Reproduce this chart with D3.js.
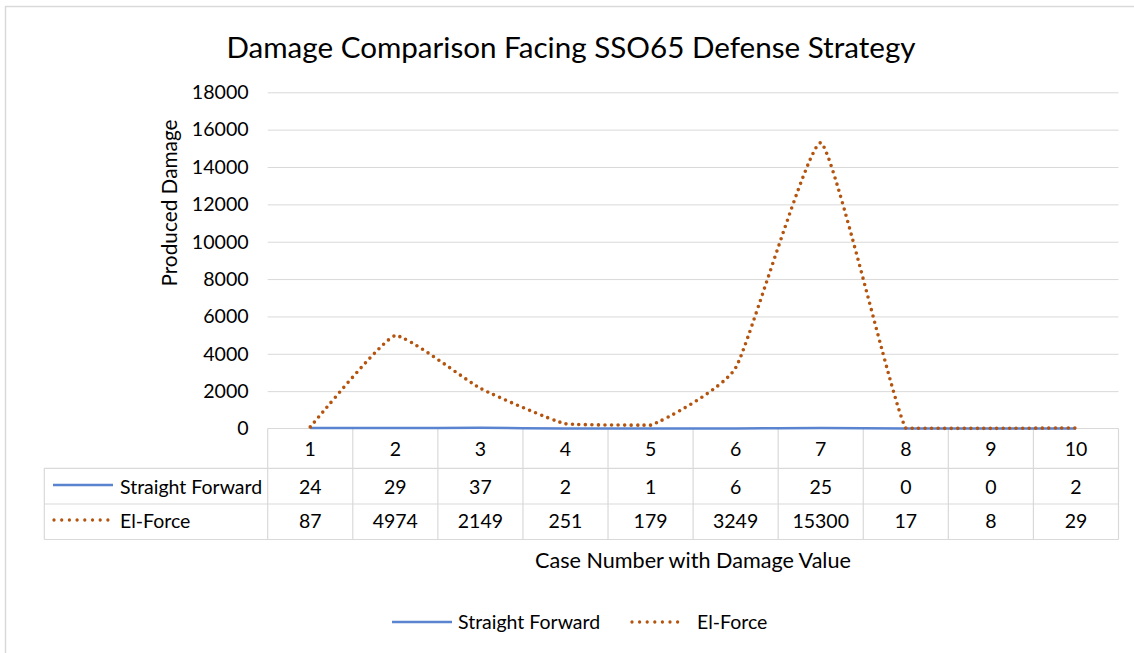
<!DOCTYPE html>
<html lang="en">
<head>
    <meta charset="UTF-8">
    <title>Damage Comparison</title>
    <script src="https://d3js.org/d3.v7.min.js"></script>
    <style>
        body { margin: 0; background: white; }
        text { font-family: Lato, "Open Sans", sans-serif; fill: #000; }
    </style>
</head>
<body>
    <svg id="svg1" width="1134" height="653"></svg>

    <script>
        // data ---------------------------------------------------------------
        const cases = [1, 2, 3, 4, 5, 6, 7, 8, 9, 10];
        const straightForward = [24, 29, 37, 2, 1, 6, 25, 0, 0, 2];
        const elForce = [87, 4974, 2149, 251, 179, 3249, 15300, 17, 8, 29];
        const yTicks = [0, 2000, 4000, 6000, 8000, 10000, 12000, 14000, 16000, 18000];
        const seriesNames = ["Straight Forward", "El-Force"];

        // layout ---------------------------------------------------------------
        const svg = d3.select("svg#svg1");
        const plot = {left: 267.7, right: 1118.5, top: 92.3, bottom: 428.5};
        const table = {left: 44.3, rows: [428.5, 468.3, 504, 539.5]};
        const gridColor = "#D9D9D9";
        const blue = "#5A84D0";
        const orange = "#B4540F";
        const cellFont = "19.5px";

        // outer chart border
        svg.append("rect")
            .attr("x", 5.5).attr("y", 6.5)
            .attr("width", 1140).attr("height", 660)
            .attr("fill", "none")
            .attr("stroke", gridColor)
            .attr("stroke-width", 1.5);

        // scales
        const xScale = d3.scaleBand().domain(cases).range([plot.left, plot.right]);
        const yScale = d3.scaleLinear().domain([0, 18000]).range([plot.bottom, plot.top]);
        const xMid = d => xScale(d) + xScale.bandwidth() / 2;

        // title
        svg.append("text")
            .text("Damage Comparison Facing SSO65 Defense Strategy")
            .attr("x", 571).attr("y", 46)
            .attr("text-anchor", "middle")
            .attr("dominant-baseline", "central")
            .style("font-size", "29.6px");

        // gridlines + y ticks
        const yAxis = d3.axisLeft(yScale)
            .tickValues(yTicks)
            .tickSize(-(plot.right - plot.left))
            .tickPadding(19)
            .tickFormat(d3.format("d"));
        const gy = svg.append("g")
            .attr("transform", `translate(${plot.left}, 0)`)
            .call(yAxis);
        gy.select(".domain").remove();
        gy.selectAll(".tick line").attr("stroke", gridColor).attr("stroke-width", 1)
            .filter(d => d === 0).remove();
        gy.selectAll(".tick text").style("font-size", "19.6px").attr("fill", "#000");

        // y axis title
        svg.append("text")
            .text("Produced Damage")
            .attr("transform", "translate(168, 203) rotate(-90)")
            .attr("text-anchor", "middle")
            .attr("dominant-baseline", "central")
            .style("font-size", "20.8px");

        // data table ----------------------------------------------------------
        const tbl = svg.append("g").attr("class", "data-table");
        const [r0, r1, r2, r3] = table.rows;

        tbl.append("line")
            .attr("x1", plot.left).attr("x2", plot.right)
            .attr("y1", r0).attr("y2", r0);
        [r1, r2, r3].forEach(y => {
            tbl.append("line")
                .attr("x1", table.left).attr("x2", plot.right)
                .attr("y1", y).attr("y2", y);
        });
        tbl.append("line")
            .attr("x1", table.left).attr("x2", table.left)
            .attr("y1", r1).attr("y2", r3);
        tbl.selectAll("line.col")
            .data(cases.concat(["end"]))
            .join("line")
            .attr("class", "col")
            .attr("x1", d => d === "end" ? plot.right : xScale(d))
            .attr("x2", d => d === "end" ? plot.right : xScale(d))
            .attr("y1", r0).attr("y2", r3);
        tbl.selectAll("line").attr("stroke", gridColor).attr("stroke-width", 1.2);

        tbl.selectAll("text.head")
            .data(cases)
            .join("text")
            .attr("class", "head")
            .text(d => d)
            .attr("x", xMid).attr("y", (r0 + r1) / 2)
            .attr("text-anchor", "middle").attr("dominant-baseline", "central")
            .style("font-size", cellFont);

        [straightForward, elForce].forEach((vals, si) => {
            const yc = si === 0 ? (r1 + r2) / 2 : (r2 + r3) / 2 - 1.5;
            tbl.selectAll(`text.v${si}`)
                .data(vals)
                .join("text")
                .attr("class", `v${si}`)
                .text(d => d)
                .attr("x", (d, i) => xMid(cases[i])).attr("y", yc)
                .attr("text-anchor", "middle").attr("dominant-baseline", "central")
                .style("font-size", cellFont);
            tbl.append("text")
                .text(seriesNames[si])
                .attr("x", 120).attr("y", yc)
                .attr("dominant-baseline", "central")
                .style("font-size", cellFont);
        });

        // key samples in the table
        tbl.append("line")
            .attr("x1", 53).attr("x2", 113).attr("y1", 485).attr("y2", 485)
            .attr("stroke", blue).attr("stroke-width", 2.5);
        tbl.append("line")
            .attr("x1", 54).attr("x2", 108).attr("y1", 520).attr("y2", 520)
            .attr("stroke", orange).attr("stroke-width", 3.3)
            .attr("stroke-linecap", "round").attr("stroke-dasharray", "0 7.7");

        // x axis title
        svg.append("text")
            .text("Case Number with Damage Value")
            .attr("x", 693).attr("y", 560)
            .attr("text-anchor", "middle").attr("dominant-baseline", "central")
            .style("font-size", "21.6px");

        // lines ------------------------------------------------------------------
        // cardinal-style smoothing, control points kept inside each segment's
        // vertical range so the curve never dips under the axis
        const k = 0.075;
        function smoothPath(vals) {
            const pts = vals.map((v, i) => [xMid(cases[i]), yScale(v)]);
            const p = d3.path();
            p.moveTo(pts[0][0], pts[0][1]);
            for (let i = 0; i < pts.length - 1; i++) {
                const p0 = pts[Math.max(i - 1, 0)], p1 = pts[i];
                const p2 = pts[i + 1], p3 = pts[Math.min(i + 2, pts.length - 1)];
                const lo = Math.min(p1[1], p2[1]), hi = Math.max(p1[1], p2[1]);
                const clamp = y => Math.max(lo, Math.min(hi, y));
                p.bezierCurveTo(
                    p1[0] + k * (p2[0] - p0[0]), clamp(p1[1] + k * (p2[1] - p0[1])),
                    p2[0] - k * (p3[0] - p1[0]), clamp(p2[1] - k * (p3[1] - p1[1])),
                    p2[0], p2[1]);
            }
            return p.toString();
        }

        const lines = svg.append("g").attr("class", "series");
        lines.append("path")
            .attr("d", smoothPath(straightForward))
            .attr("fill", "none")
            .attr("stroke", blue)
            .attr("stroke-width", 2.5);

        lines.append("path")
            .attr("d", smoothPath(elForce))
            .attr("fill", "none")
            .attr("stroke", orange)
            .attr("stroke-width", 3.6)
            .attr("stroke-linecap", "round")
            .attr("stroke-dasharray", "0 6.5");

        // bottom legend ----------------------------------------------------------
        const legend = svg.append("g").attr("class", "legend");
        legend.append("line")
            .attr("x1", 392).attr("x2", 452).attr("y1", 622).attr("y2", 622)
            .attr("stroke", blue).attr("stroke-width", 2.5);
        legend.append("text")
            .text(seriesNames[0])
            .attr("x", 458).attr("y", 621)
            .attr("dominant-baseline", "central")
            .style("font-size", cellFont);
        legend.append("line")
            .attr("x1", 632).attr("x2", 685).attr("y1", 622).attr("y2", 622)
            .attr("stroke", orange).attr("stroke-width", 3.3)
            .attr("stroke-linecap", "round").attr("stroke-dasharray", "0 7.6");
        legend.append("text")
            .text(seriesNames[1])
            .attr("x", 697).attr("y", 621)
            .attr("dominant-baseline", "central")
            .style("font-size", cellFont);
    </script>
</body>
</html>
